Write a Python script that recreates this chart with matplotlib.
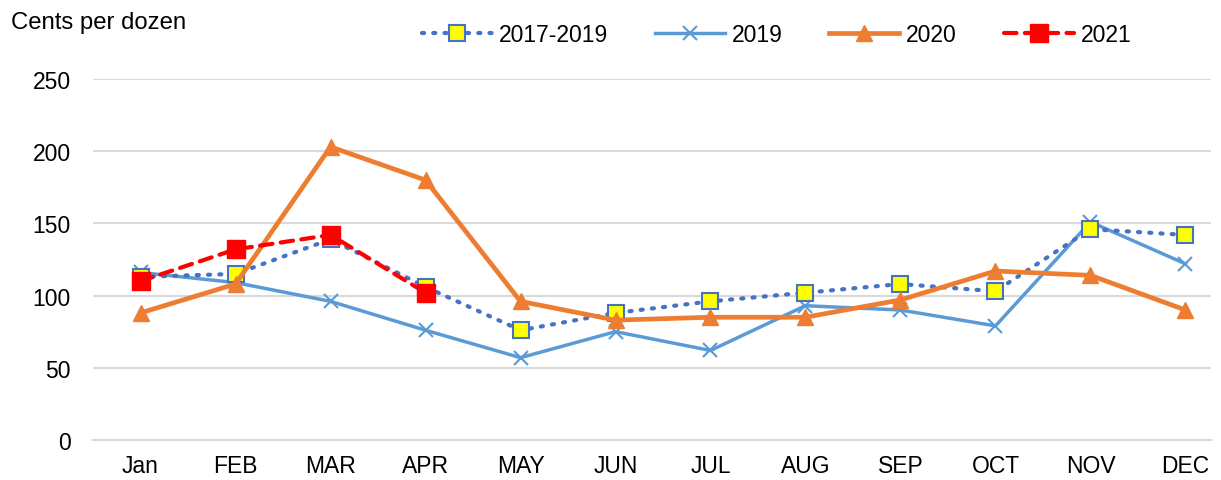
import matplotlib.pyplot as plt

plt.rcParams['font.family'] = ['Liberation Sans', 'DejaVu Sans']

months = ['Jan', 'FEB', 'MAR', 'APR', 'MAY', 'JUN', 'JUL', 'AUG', 'SEP', 'OCT', 'NOV', 'DEC']
avg_1719 = [113, 115, 139, 106, 76, 88, 96, 102, 108, 103, 146, 142]
y2019 = [116, 109, 96, 76, 57, 75, 62, 93, 90, 79, 151, 122]
y2020 = [88, 108, 203, 180, 96, 83, 85, 85, 97, 117, 114, 90]
y2021 = [110, 132, 142, 102]

fig = plt.figure(figsize=(12.21, 4.81), dpi=100)
ax = fig.add_axes([0.0762, 0.0832, 0.9157, 0.7505])
x = list(range(len(months)))

ax.plot(x, avg_1719, color='#4472C4', linestyle=(0, (0.5, 2.2)), dash_capstyle='round',
        linewidth=3, marker='s', markersize=11, markerfacecolor='#FFFF00',
        markeredgecolor='#4472C4', markeredgewidth=1.5, label='2017-2019', zorder=3)
ax.plot(x, y2019, color='#5B9BD5', linewidth=2.5, marker='x', markersize=10,
        markeredgewidth=1.5, label='2019', zorder=2)
ax.plot(x, y2020, color='#ED7D31', linewidth=3.4, marker='^', markersize=11,
        label='2020', zorder=4)
ax.plot(x[:len(y2021)], y2021, color='#FF0000', linestyle=(0, (3, 2)), dash_capstyle='round',
        linewidth=3, marker='s', markersize=13, label='2021', zorder=5)

ax.set_ylim(0, 250)
ax.set_xlim(-0.5, 11.27)
ax.set_yticks(range(0, 251, 50))
ax.set_xticks(x)
ax.set_xticklabels(months)
ax.grid(axis='y', color='#D9D9D9', linewidth=1.5)
ax.set_axisbelow(True)
for s in ['top', 'right', 'left']:
    ax.spines[s].set_visible(False)
ax.spines['bottom'].set_color('#D9D9D9')
ax.spines['bottom'].set_linewidth(1.5)
ax.tick_params(axis='both', length=0, labelsize=16.5)
ax.tick_params(axis='x', pad=10)
ax.tick_params(axis='y', pad=16)

fig.text(0.009, 0.952, 'Cents per dozen', fontsize=17.2, va='center')
fig.legend(loc='center', bbox_to_anchor=(0.636, 0.927), ncol=4, frameon=False,
           fontsize=16.5, handlelength=3.05, columnspacing=2.05, handletextpad=0.3)

fig.savefig('out.png', dpi=100)
